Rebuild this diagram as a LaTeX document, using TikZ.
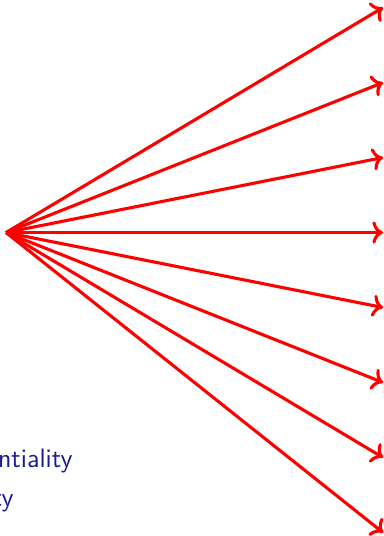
\documentclass[tikz,border=0pt]{standalone}
\definecolor{ItemColor}{RGB}{26,26,148}
\definecolor{FanColor}{RGB}{255,0,0}
\usepackage{tikz}
\usetikzlibrary{positioning, arrows.meta, calc}

\tikzset{
  fanarrow/.style={->, line width=1.3pt, FanColor},
  itemtext/.style={ItemColor, font=\sffamily\fontsize{11.2}{13}\selectfont, inner sep=0pt, anchor=base east}
}

\begin{document}
\begin{tikzpicture}
          \clip (0,0) rectangle (5.653,-7.911);

          % fan of arrows
          \coordinate (src) at (0.089,-3.432);
          \foreach \k in {-3,...,4} {
            \coordinate (tip\k) at (5.653,{-3.432-1.107*\k});
            \draw[fanarrow] (src) -- (tip\k);
          }

          % list entries (cut by the frame)
          \node[itemtext] (conf) at (1.077,-6.893) {Confidentiality};
          \node[itemtext] (integ) at (0.207,-7.47) {Integrity};
        \end{tikzpicture}
\end{document}
